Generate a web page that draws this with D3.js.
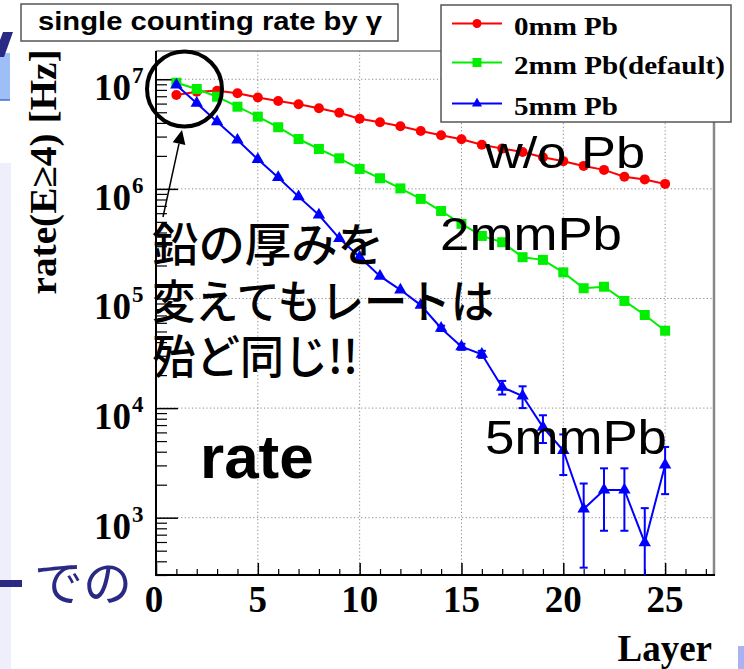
<!DOCTYPE html>
<html><head><meta charset="utf-8">
<script src="https://cdn.jsdelivr.net/npm/d3@7"></script>
<style>
body{margin:0;background:#fff}
svg{display:block}
</style>
</head><body>
<svg id="chart" width="744" height="669"></svg>
<script>
// Layer index (x) and single counting rate per layer for three lead thicknesses
const layers = [1,2,3,4,5,6,7,8,9,10,11,12,13,14,15,16,17,18,19,20,21,22,23,24,25];
const rate0mm = [7.18e6,7.7e6,7.87e6,7.45e6,6.82e6,6.34e6,5.91e6,5.44e6,4.95e6,4.37e6,4.06e6,3.73e6,3.37e6,3.08e6,2.84e6,2.53e6,2.33e6,2.17e6,1.94e6,1.79e6,1.62e6,1.49e6,1.29e6,1.22e6,1.11e6];
const rate2mm = [9.3e6,8.15e6,6.93e6,5.62e6,4.56e6,3.65e6,2.85e6,2.31e6,1.9e6,1.52e6,1.25e6,1.01e6,8.1e5,6.28e5,4.8e5,3.72e5,3.26e5,2.38e5,2.25e5,1.73e5,1.24e5,1.28e5,9.5e4,7.07e4,5.08e4];
const rate5mm = [8.87e6,6.04e6,4.1e6,2.79e6,1.86e6,1.27e6,8.5e5,5.78e5,3.54e5,2.39e5,1.6e5,1.2e5,8.7e4,5.35e4,3.63e4,3.1e4,1.55e4,1.29e4,6.7e3,4.1e3,1.2e3,1.79e3,1.79e3,592,3.03e3];
const err5mm  = [0,0,0,0,0,0,0,0,0,0,0,0,0,3000,2300,2300,2200,2900,1900,1650,850,1030,1030,630,1390];

const seriesNames = ["0mm Pb","2mm Pb(default)","5mm Pb"];
const seriesColors = ["#ff0000","#00ee00","#0000ff"];
const seriesMarkers = ["circle","square","triangle"];

const yDecades = [1e3,1e4,1e5,1e6,1e7];
const yDecadeExp = ["3","4","5","6","7"];
const xMajor = [0,5,10,15,20,25];
const xMajorLabels = ["0","5","10","15","20","25"];

const titleText = "single counting rate by \u03b3";
const yTitle = "rate(E\u22654) [Hz]";
const xTitle = "Layer";

const svg = d3.select("#chart");
const serif = "'Liberation Serif','Times New Roman',serif";
const sans = "'Liberation Sans',Arial,Helvetica,sans-serif";
const cjk = "'Noto Sans CJK JP','Noto Sans CJK SC',sans-serif";

// ---- slide decorations around the plot ----
svg.append("rect").attr("x",0).attr("y",163).attr("width",11).attr("height",506).attr("fill","#efeffb");
svg.append("rect").attr("x",0).attr("y",53).attr("width",10).attr("height",47).attr("fill","#9dbff5");
svg.append("line").attr("x1",0).attr("x2",10).attr("y1",100).attr("y2",100).attr("stroke","#3d6fd8").attr("stroke-width",1.5);
svg.append("path").attr("d","M0,40 L3,32 L13,32 L4,57 L0,57 Z").attr("fill","#2a2a85");
svg.append("rect").attr("x",738).attr("y",646).attr("width",6).attr("height",23).attr("fill","#aab2f2");
svg.append("rect").attr("x",0).attr("y",580).attr("width",22).attr("height",7).attr("fill","#2a2a85");
svg.append("text").attr("x",34).attr("y",601).attr("font-family",cjk).attr("font-size",49)
  .attr("fill","#2a2a85").text("での");

// ---- frame geometry and scales ----
const L = 156, R = 714, T = 51, B = 575;
const x = d3.scaleLinear().domain([0, 27.4]).range([L, R]);
const y = d3.scaleLog().domain([300, 1.811e7]).range([B, T]);

// grid
const grid = svg.append("g").attr("stroke","#8a8a8a").attr("stroke-width",1).attr("stroke-dasharray","1.2,2.4");
grid.selectAll("line.gx").data(xMajor.filter(v => v > 0)).join("line")
  .attr("x1", d => x(d)).attr("x2", d => x(d)).attr("y1", T).attr("y2", B);
grid.selectAll("line.gy").data(yDecades).join("line")
  .attr("x1", L).attr("x2", R).attr("y1", d => y(d)).attr("y2", d => y(d));

// frame: grey top/right, black axes
svg.append("line").attr("x1",L).attr("x2",R).attr("y1",T).attr("y2",T).attr("stroke","#777").attr("stroke-width",1.5);
svg.append("line").attr("x1",R).attr("x2",R).attr("y1",T).attr("y2",B).attr("stroke","#888").attr("stroke-width",2.5);

// y axis ticks (inside, pointing right)
const yMinor = [];
[100,1e3,1e4,1e5,1e6,1e7].forEach(d => { for (let k = 2; k <= 9; k++) { const v = d*k; if (v >= 300 && v <= 1.811e7) yMinor.push(v); } });
svg.append("g").attr("transform",`translate(${L},0)`)
  .call(d3.axisRight(y).tickValues(yDecades).tickSize(22).tickFormat(""))
  .call(g => g.select(".domain").remove())
  .selectAll("line").attr("stroke","#000").attr("stroke-width",1.5);
svg.append("g").attr("transform",`translate(${L},0)`)
  .call(d3.axisRight(y).tickValues(yMinor).tickSize(11).tickFormat(""))
  .call(g => g.select(".domain").remove())
  .selectAll("line").attr("stroke","#000").attr("stroke-width",1.2);

// x axis ticks (inside, pointing up)
const xMinor = [];
for (let v = 0; v <= 27; v++) if (v % 5 !== 0) xMinor.push(v);
svg.append("g").attr("transform",`translate(0,${B})`)
  .call(d3.axisTop(x).tickValues(xMajor).tickSize(12).tickFormat(""))
  .call(g => g.select(".domain").remove())
  .selectAll("line").attr("stroke","#000").attr("stroke-width",1.5);
svg.append("g").attr("transform",`translate(0,${B})`)
  .call(d3.axisTop(x).tickValues(xMinor).tickSize(6).tickFormat(""))
  .call(g => g.select(".domain").remove())
  .selectAll("line").attr("stroke","#000").attr("stroke-width",1.2);

svg.append("line").attr("x1",L).attr("x2",L).attr("y1",T).attr("y2",B+1).attr("stroke","#000").attr("stroke-width",2);
svg.append("line").attr("x1",L).attr("x2",R+1).attr("y1",B).attr("y2",B).attr("stroke","#000").attr("stroke-width",2);

// y tick labels 10^n
const ylab = svg.append("g").attr("font-family",serif).attr("font-weight","bold").attr("fill","#000");
yDecades.forEach((d,i) => {
  ylab.append("text").attr("x",131).attr("y",y(d)+21).attr("text-anchor","end").attr("font-size",37).text("10");
  ylab.append("text").attr("x",132).attr("y",y(d)+4).attr("font-size",23).text(yDecadeExp[i]);
});
// x tick labels
svg.append("g").attr("font-family",serif).attr("font-weight","bold").attr("font-size",37)
  .selectAll("text").data(xMajor).join("text")
  .attr("x", d => x(d) - (d === 0 ? 2 : 0)).attr("y",612).attr("text-anchor","middle")
  .text((d,i) => xMajorLabels[i]);

// axis titles
svg.append("text").attr("x",712).attr("y",661).attr("text-anchor","end")
  .attr("font-family",serif).attr("font-weight","bold").attr("font-size",37).text(xTitle);
svg.append("text").attr("transform","translate(56,172) rotate(-90)").attr("text-anchor","middle")
  .attr("font-family",serif).attr("font-weight","bold").attr("font-size",37)
  .attr("textLength",245).attr("lengthAdjust","spacingAndGlyphs").text(yTitle);

// ---- data ----
svg.append("clipPath").attr("id","plotclip").append("rect")
  .attr("x",L).attr("y",T).attr("width",R-L).attr("height",B-T);
const plot = svg.append("g").attr("clip-path","url(#plotclip)");
const allRates = [rate0mm, rate2mm, rate5mm];

function marker(sel, type, color, s) {
  if (type === "circle") sel.append("circle").attr("r", s*0.5).attr("fill", color);
  else if (type === "square") sel.append("rect").attr("x",-s/2).attr("y",-s/2).attr("width",s).attr("height",s).attr("fill",color);
  else sel.append("path").attr("d", d3.symbol(d3.symbolTriangle, s*s*0.55)()).attr("fill", color);
}

// error bars for the 5 mm series
const eb = plot.append("g").attr("stroke", seriesColors[2]).attr("stroke-width",2);
layers.forEach((l,i) => {
  const e = err5mm[i]; if (!e) return;
  const v = rate5mm[i];
  const hi = y(v+e), lo = v-e > 0 ? y(v-e) : B+10;
  eb.append("line").attr("x1",x(l)).attr("x2",x(l)).attr("y1",hi).attr("y2",lo);
  eb.append("line").attr("x1",x(l)-4).attr("x2",x(l)+4).attr("y1",hi).attr("y2",hi);
  if (v-e > 0) eb.append("line").attr("x1",x(l)-4).attr("x2",x(l)+4).attr("y1",lo).attr("y2",lo);
});

allRates.forEach((vals, si) => {
  const pts = layers.map((l,i) => [x(l), y(vals[i])]);
  plot.append("path").attr("d", d3.line()(pts)).attr("fill","none")
    .attr("stroke", seriesColors[si]).attr("stroke-width",2);
  pts.forEach(p => {
    const g = plot.append("g").attr("transform",`translate(${p[0]},${p[1]})`);
    marker(g, seriesMarkers[si], seriesColors[si], si === 2 ? 11 : 10);
  });
});

// ---- title box ----
svg.append("rect").attr("x",21).attr("y",4).attr("width",377).attr("height",37)
  .attr("fill","#fff").attr("stroke","#555").attr("stroke-width",1.5);
svg.append("text").attr("x",38).attr("y",30).attr("font-family",sans).attr("font-weight","bold")
  .attr("font-size",25).attr("textLength",344).attr("lengthAdjust","spacingAndGlyphs").text(titleText);

// ---- legend ----
svg.append("rect").attr("x",441).attr("y",5).attr("width",290).attr("height",117)
  .attr("fill","#fff").attr("stroke","#555").attr("stroke-width",1.5);
const legRows = [23.5, 62.5, 103.5];
const legLens = [104, 211, 104];
seriesNames.forEach((n, si) => {
  const cy = legRows[si];
  svg.append("line").attr("x1",452).attr("x2",502).attr("y1",cy).attr("y2",cy)
    .attr("stroke",seriesColors[si]).attr("stroke-width",2);
  const g = svg.append("g").attr("transform",`translate(477,${cy})`);
  marker(g, seriesMarkers[si], seriesColors[si], 9);
  svg.append("text").attr("x",514).attr("y",cy+11).attr("font-family",serif).attr("font-weight","bold")
    .attr("font-size",25).attr("textLength",legLens[si]).attr("lengthAdjust","spacingAndGlyphs").text(n);
});

// ---- annotations ----
const ann = svg.append("g").attr("font-family",sans).attr("fill","#000");
ann.append("text").attr("x",485).attr("y",168).attr("font-size",45).attr("textLength",160).attr("lengthAdjust","spacingAndGlyphs").text("w/o Pb");
ann.append("text").attr("x",440).attr("y",250).attr("font-size",46).attr("textLength",182).attr("lengthAdjust","spacingAndGlyphs").text("2mmPb");
ann.append("text").attr("x",485).attr("y",454).attr("font-size",48).attr("textLength",182).attr("lengthAdjust","spacingAndGlyphs").text("5mmPb");
ann.append("text").attr("x",200).attr("y",478).attr("font-size",62).attr("font-weight","bold").text("rate");

const jp = svg.append("g").attr("font-family",cjk).attr("font-weight",500).attr("font-size",46).attr("fill","#000");
jp.append("text").attr("x",152).attr("y",261).attr("textLength",232).attr("lengthAdjust","spacingAndGlyphs").text("鉛の厚みを");
jp.append("text").attr("x",152).attr("y",318).attr("textLength",342).attr("lengthAdjust","spacingAndGlyphs").text("変えてもレートは");
jp.append("text").attr("x",152).attr("y",373).attr("textLength",206).attr("lengthAdjust","spacingAndGlyphs").text("殆ど同じ!!");

// circle around the first layers and arrow pointing to it
svg.append("circle").attr("cx",184.5).attr("cy",89).attr("r",37.5).attr("fill","none")
  .attr("stroke","#000").attr("stroke-width",4);
const a0 = [163,217], a1 = [182,130];
const len = Math.hypot(a1[0]-a0[0], a1[1]-a0[1]);
const u = [(a1[0]-a0[0])/len, (a1[1]-a0[1])/len], nrm = [-u[1], u[0]];
const bc = [a1[0]-14*u[0], a1[1]-14*u[1]];
svg.append("line").attr("x1",a0[0]).attr("y1",a0[1]).attr("x2",bc[0]).attr("y2",bc[1])
  .attr("stroke","#000").attr("stroke-width",1.5);
svg.append("path").attr("d",`M${a1[0]},${a1[1]} L${bc[0]+6.5*nrm[0]},${bc[1]+6.5*nrm[1]} L${bc[0]-6.5*nrm[0]},${bc[1]-6.5*nrm[1]} Z`)
  .attr("fill","#000");
</script>
</body></html>
